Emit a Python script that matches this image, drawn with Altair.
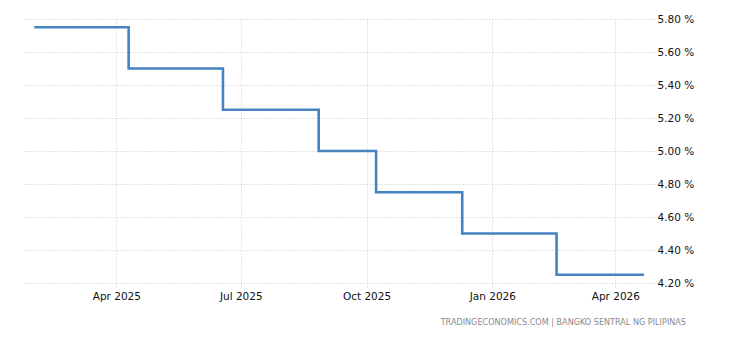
import altair as alt
import pandas as pd

# Step dates (start of each level) and the rate level
dates = ["2025-01-31", "2025-04-10", "2025-06-18", "2025-08-27",
         "2025-10-08", "2025-12-10", "2026-02-17", "2026-04-22"]
rates = [5.75, 5.50, 5.25, 5.00, 4.75, 4.50, 4.25, 4.25]

y_ticks = [4.2, 4.4, 4.6, 4.8, 5.0, 5.2, 5.4, 5.6, 5.8]
x_tick_months = [(2025, 4), (2025, 7), (2025, 10), (2026, 1), (2026, 4)]
source_text = ["TRADINGECONOMICS.COM | BANGKO SENTRAL NG PILIPINAS"]

df = pd.DataFrame({"date": dates, "rate": rates})
src = pd.DataFrame({"t": source_text})

FONT = "DejaVu Sans"

x_enc = alt.X(
    "date:T",
    scale=alt.Scale(
        type="utc",
        domain=[alt.DateTime(year=2025, month=1, date=22, utc=True),
                alt.DateTime(year=2026, month=4, date=30, utc=True)],
    ),
    axis=alt.Axis(
        title=None,
        values=[alt.DateTime(year=y, month=m, date=1, utc=True) for y, m in x_tick_months],
        labelExpr="utcFormat(datum.value, '%b %Y')",
        domain=False,
        grid=True,
        gridColor="#c8c8c8",
        gridDash=[1, 2],
        ticks=True,
        tickSize=6,
        tickColor="#c8c8c8",
        tickDash=[1, 2],
        labelPadding=2,
        labelFont=FONT,
        labelFontSize=10.5,
        labelColor="#111111",
    ),
)

y_enc = alt.Y(
    "rate:Q",
    scale=alt.Scale(domain=[4.2, 5.8], nice=False, zero=False),
    axis=alt.Axis(
        title=None,
        orient="right",
        values=y_ticks,
        labelExpr="format(datum.value, '.2f') + ' %'",
        domain=False,
        ticks=False,
        grid=True,
        gridColor="#c8c8c8",
        gridDash=[1, 2],
        labelPadding=2,
        labelFont=FONT,
        labelFontSize=10.5,
        labelColor="#111111",
    ),
)

line = alt.Chart(df).mark_line(
    interpolate="step-after", color="#4683c0", strokeWidth=2.6
).encode(x=x_enc, y=y_enc)

source = alt.Chart(src).mark_text(
    align="right", baseline="middle", font=FONT, fontSize=8.1, color="#8a8a8a"
).encode(
    text="t:N",
    x=alt.value(664),
    y=alt.value(304),
)

chart = alt.layer(line, source).properties(
    width=633,
    height=264,
    autosize=alt.AutoSizeParams(type="none"),
    padding={"left": 22, "top": 19, "right": 75, "bottom": 57},
    background="white",
).configure_view(stroke=None)

chart.save("out.html", embed_options={"renderer": "svg", "actions": False})
